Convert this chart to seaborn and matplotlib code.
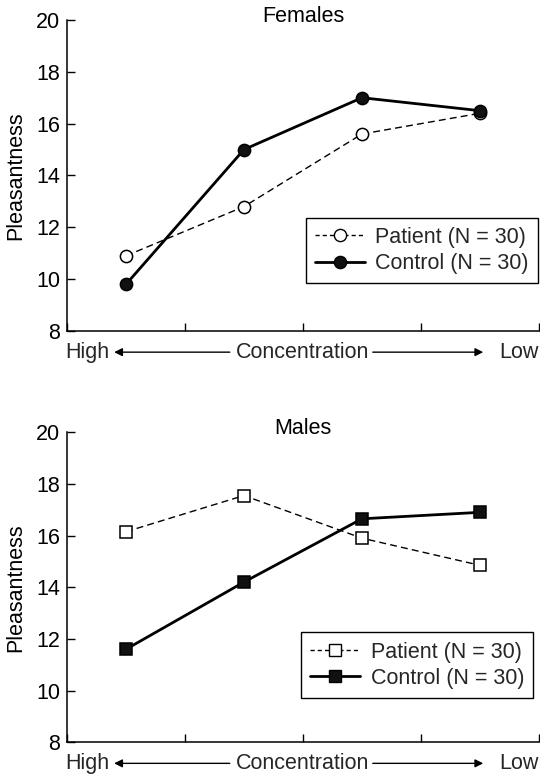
import matplotlib
matplotlib.use("Agg")
import matplotlib.pyplot as plt
from matplotlib.lines import Line2D
import seaborn as sns
import pandas as pd

# Four concentration steps (high -> low), centred between the ticks
positions = [0.5, 1.5, 2.5, 3.5]

female_patient = [10.9, 12.8, 15.6, 16.4]
female_control = [9.8, 15.0, 17.0, 16.5]
male_patient = [16.15, 17.55, 15.9, 14.85]
male_control = [11.6, 14.2, 16.65, 16.9]

panel_titles = ["Females", "Males"]
series_labels = ["Patient (N = 30)", "Control (N = 30)"]
y_ticks = [8, 10, 12, 14, 16, 18, 20]

FS = 15.5

sns.set_theme(style="ticks")
plt.rcParams["font.family"] = ["Liberation Sans", "DejaVu Sans"]
plt.rcParams["font.size"] = FS

fig = plt.figure(figsize=(5.4, 7.77), dpi=100)
ax_top = fig.add_axes([0.124, 0.574, 0.874, 0.4003])
ax_bot = fig.add_axes([0.124, 0.0447, 0.874, 0.399])

panels = [
    (ax_top, female_patient, female_control, "o", (0.998, 0.154)),
    (ax_bot, male_patient, male_control, "s", (0.988, 0.143)),
]

for (ax, patient, control, mk, legend_anchor), title in zip(panels, panel_titles):
    df = pd.DataFrame({"pos": positions, "patient": patient, "control": control})
    sns.lineplot(data=df, x="pos", y="patient", ax=ax, color="black",
                 linewidth=1.0, linestyle=(0, (5, 3)), marker=mk,
                 markersize=8.8, markerfacecolor="white",
                 markeredgecolor="black", markeredgewidth=1.1)
    sns.lineplot(data=df, x="pos", y="control", ax=ax, color="black",
                 linewidth=2.0, linestyle="-", marker=mk,
                 markersize=8.8, markerfacecolor="#111111",
                 markeredgecolor="black", markeredgewidth=1.1)

    ax.set_xlim(0, 4)
    ax.set_ylim(8, 20)
    ax.set_xticks([0, 1, 2, 3, 4])
    ax.set_xticklabels([])
    ax.set_yticks(y_ticks)
    ax.tick_params(axis="both", direction="in", length=6, width=1.0,
                   color="black", labelsize=FS, labelcolor="black", pad=5)
    for side in ("top", "right"):
        ax.spines[side].set_visible(False)
    for side in ("left", "bottom"):
        ax.spines[side].set_linewidth(1.1)
        ax.spines[side].set_color("black")

    ax.set_xlabel("")
    ax.set_ylabel("Pleasantness", fontsize=FS, color="black")
    ax.yaxis.set_label_coords(-0.086, 0.5)

    ax.text(0.5, 0.994, title, transform=ax.transAxes, ha="center",
            va="baseline", fontsize=FS, color="black")

    # Concentration axis with arrows pointing to the two extremes
    ty = -0.068
    ax.text(-0.004, ty, "High", transform=ax.transAxes, ha="left",
            va="center", fontsize=FS)
    ax.text(1.0, ty, "Low", transform=ax.transAxes, ha="right",
            va="center", fontsize=FS)
    ax.text(0.5, ty, "Concentration", transform=ax.transAxes, ha="center",
            va="center", fontsize=FS)
    arrow = dict(arrowstyle="-|>", color="black", lw=1.0,
                 mutation_scale=12, shrinkA=0, shrinkB=0)
    ax.annotate("", xy=(0.1, ty), xytext=(0.345, ty),
                xycoords="axes fraction", textcoords="axes fraction",
                arrowprops=arrow, annotation_clip=False)
    ax.annotate("", xy=(0.882, ty), xytext=(0.648, ty),
                xycoords="axes fraction", textcoords="axes fraction",
                arrowprops=arrow, annotation_clip=False)

    handles = [
        Line2D([], [], color="black", lw=1.0, linestyle=(0, (3, 2.2)),
               marker=mk, markersize=8.8, markerfacecolor="white",
               markeredgecolor="black"),
        Line2D([], [], color="black", lw=2.0, linestyle="-",
               marker=mk, markersize=8.8, markerfacecolor="#111111",
               markeredgecolor="black"),
    ]
    leg = ax.legend(handles, series_labels, loc="lower right",
                    bbox_to_anchor=legend_anchor, borderaxespad=0,
                    frameon=True, fancybox=False, edgecolor="black",
                    framealpha=1, fontsize=FS, handlelength=2.3,
                    handletextpad=0.5, labelspacing=0.25, borderpad=0.42)
    leg.get_frame().set_linewidth(1.0)

fig.savefig("out.png", dpi=100)
